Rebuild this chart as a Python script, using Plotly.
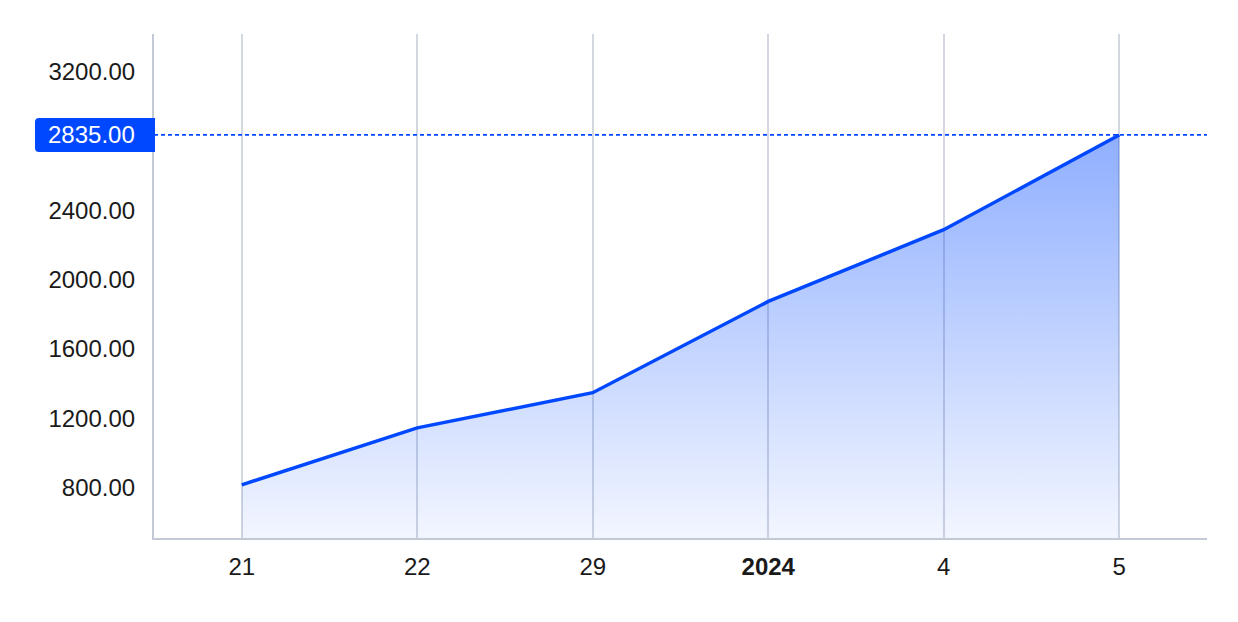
import plotly.graph_objects as go

categories = ["21", "22", "29", "2024", "4", "5"]
tick_labels = ["21", "22", "29", "<b>2024</b>", "4", "5"]
values = [815, 1144, 1347, 1874, 2288, 2835]
y_ticks = [800, 1200, 1600, 2000, 2400, 3200]
last_value = 2835

BLUE = "rgb(0,72,255)"
FONT = "Helvetica, Arial, Liberation Sans, sans-serif"

fig = go.Figure()
fig.add_trace(go.Scatter(
    x=categories, y=values, mode="lines",
    line=dict(color=BLUE, width=3.5),
    fill="tozeroy",
    fillgradient=dict(
        type="vertical",
        start=508, stop=last_value,
        colorscale=[[0, "rgba(0,72,255,0.05)"], [1, "rgba(0,72,255,0.44)"]],
    ),
    hoverinfo="skip",
))

fig.add_shape(type="line", xref="paper", yref="y", x0=0, x1=1, y0=last_value, y1=last_value,
              line=dict(color=BLUE, width=1.8, dash="4px,3px"), layer="above")
fig.add_shape(type="path", xref="paper", yref="y", xsizemode="pixel", ysizemode="pixel",
              xanchor=0, yanchor=last_value,
              path="M 1,-17 L -115,-17 Q -119,-17 -119,-13 L -119,13 Q -119,17 -115,17 L 1,17 Z",
              fillcolor=BLUE, line=dict(width=0), layer="above")
fig.add_annotation(xref="paper", yref="y", x=0, y=last_value, xanchor="right", yanchor="middle",
                   xshift=-17, text=f"{last_value:.2f}", showarrow=False,
                   font=dict(family=FONT, size=24, color="white"))

fig.update_layout(
    width=1238, height=622,
    margin=dict(l=146, r=39, t=26, b=92),
    paper_bgcolor="white", plot_bgcolor="white",
    showlegend=False,
    font=dict(family=FONT, size=24, color="#1a1a1a"),
)
fig.update_xaxes(
    type="category", range=[-0.5, 5.5],
    tickvals=categories, ticktext=tick_labels,
    showgrid=True, gridcolor="#d3d8e0", gridwidth=1.5,
    showline=True, linecolor="#c3cad5", linewidth=2,
    ticks="", ticklabelstandoff=6, zeroline=False,
)
fig.update_yaxes(
    range=[508, 3418],
    tickvals=y_ticks, ticktext=[f"{v:.2f}" for v in y_ticks],
    showgrid=False, zeroline=False,
    showline=True, linecolor="#c3cad5", linewidth=2,
    ticks="", ticklabelstandoff=12,
)

fig.write_html("out.html")
